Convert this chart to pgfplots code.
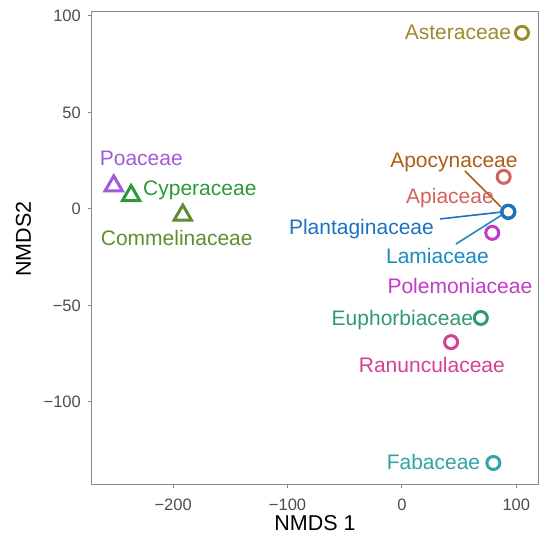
\documentclass[border=0pt]{standalone}
\usepackage{pgfplots}
\pgfplotsset{compat=1.18}
\usepackage{fontspec}
\setmainfont{Liberation Sans}
\definecolor{axgray}{HTML}{8A8A8A}
\definecolor{tickgray}{HTML}{4D4D4D}
\definecolor{cAster}{HTML}{9E8A2E}
\definecolor{cApoc}{HTML}{A86014}
\definecolor{cApia}{HTML}{D2625C}
\definecolor{cPlan}{HTML}{1C72C0}
\definecolor{cLami}{HTML}{1A8BC0}
\definecolor{cPole}{HTML}{C23BC9}
\definecolor{cEuph}{HTML}{2E9B6F}
\definecolor{cRanu}{HTML}{D4418E}
\definecolor{cFaba}{HTML}{2FA3A6}
\definecolor{cPoac}{HTML}{A25BD8}
\definecolor{cCype}{HTML}{2D9A3A}
\definecolor{cComm}{HTML}{5E8E2F}
\begin{document}
\begin{tikzpicture}
\begin{axis}[
  scale only axis, width=446bp, height=472bp,
  xmin=-271, xmax=119, ymin=-142.5, ymax=102,
  axis line style={draw=axgray, line width=1bp},
  xtick={-200,-100,0,100}, ytick={-100,-50,0,50,100},
  xticklabels={−200,−100,0,100}, yticklabels={−100,−50,0,50,100},
  tick align=outside, major tick length=4bp,
  tick style={draw=axgray, line width=1bp},
  xtick pos=bottom, ytick pos=left,
  ticklabel style={font=\fontsize{16.5bp}{18bp}\selectfont, text=tickgray},
  xticklabel style={anchor=base, inner sep=0pt, yshift=-22bp},
  yticklabel style={anchor=east, inner sep=0pt, xshift=-7bp},
  xlabel={NMDS 1}, ylabel={NMDS2},
  label style={font=\fontsize{21.5bp}{24bp}\selectfont},
  xlabel style={at={(axis description cs:0.5,0)}, anchor=base, inner sep=0pt, yshift=-46bp},
  ylabel style={at={(axis description cs:-0.1368,0.519)}, anchor=base, inner sep=0pt},
  clip=false,
  every axis plot/.append style={mark options={line width=3bp}},
]
\coordinate (sw) at (rel axis cs:0,0);
\coordinate (ne) at (rel axis cs:1,1);
% leader lines
\addplot[cApoc, line width=1.6bp] coordinates {(55.1,19.7) (86.6,1.0)};
\addplot[cPlan, line width=1.6bp] coordinates {(33.2,-5.2) (87.5,-1.6)};
\addplot[cLami, line width=1.6bp] coordinates {(47.2,-18.2) (87.5,-3.1)};
% circles
\addplot[cAster, only marks, mark=o, mark size=6.5bp] coordinates {(105,91.2)};
\addplot[cApia, only marks, mark=o, mark size=6.5bp] coordinates {(89,16.6)};
\addplot[cPole, only marks, mark=o, mark size=6.5bp] coordinates {(79,-12.4)};
\addplot[cEuph, only marks, mark=o, mark size=6.5bp] coordinates {(69,-56.5)};
\addplot[cRanu, only marks, mark=o, mark size=6.5bp] coordinates {(43,-69)};
\addplot[cFaba, only marks, mark=o, mark size=6.5bp] coordinates {(80,-131.6)};
\addplot[cApoc, only marks, mark=o, mark size=6.5bp] coordinates {(93,-1.5)};
\addplot[cLami, only marks, mark=o, mark size=6.5bp] coordinates {(93,-1.5)};
\addplot[cPlan, only marks, mark=o, mark size=6.5bp] coordinates {(93,-1.5)};
% triangles
\addplot[cPoac, only marks, mark=triangle, mark size=10bp] coordinates {(-252,11.9)};
\addplot[cCype, only marks, mark=triangle, mark size=10bp] coordinates {(-236.8,6.9)};
\addplot[cComm, only marks, mark=triangle, mark size=10bp] coordinates {(-191.6,-3.2)};
% labels
\begin{scope}[every node/.style={font=\fontsize{21bp}{24bp}\selectfont, anchor=base, inner sep=0pt}]
\node[text=cAster] at (axis cs:49.0,87.6) {Asteraceae};
\node[text=cApoc] at (axis cs:45.5,21.2) {Apocynaceae};
\node[text=cApia] at (axis cs:42.0,2.6) {Apiaceae};
\node[text=cPlan] at (axis cs:-35.4,-13.5) {Plantaginaceae};
\node[text=cLami] at (axis cs:31.1,-28.5) {Lamiaceae};
\node[text=cPole] at (axis cs:50.7,-44.0) {Polemoniaceae};
\node[text=cEuph] at (axis cs:0.4,-60.6) {Euphorbiaceae};
\node[text=cRanu] at (axis cs:26.2,-84.5) {Ranunculaceae};
\node[text=cFaba] at (axis cs:27.6,-135.2) {Fabaceae};
\node[text=cPoac] at (axis cs:-227.9,22.3) {Poaceae};
\node[text=cCype] at (axis cs:-176.7,6.7) {Cyperaceae};
\node[text=cComm] at (axis cs:-196.9,-19.2) {Commelinaceae};
\end{scope}
\end{axis}
\pgfresetboundingbox
\path[use as bounding box] ([shift={(-92bp,-57bp)}]sw) rectangle ([shift={(1bp,12bp)}]ne);
\end{tikzpicture}
\end{document}
